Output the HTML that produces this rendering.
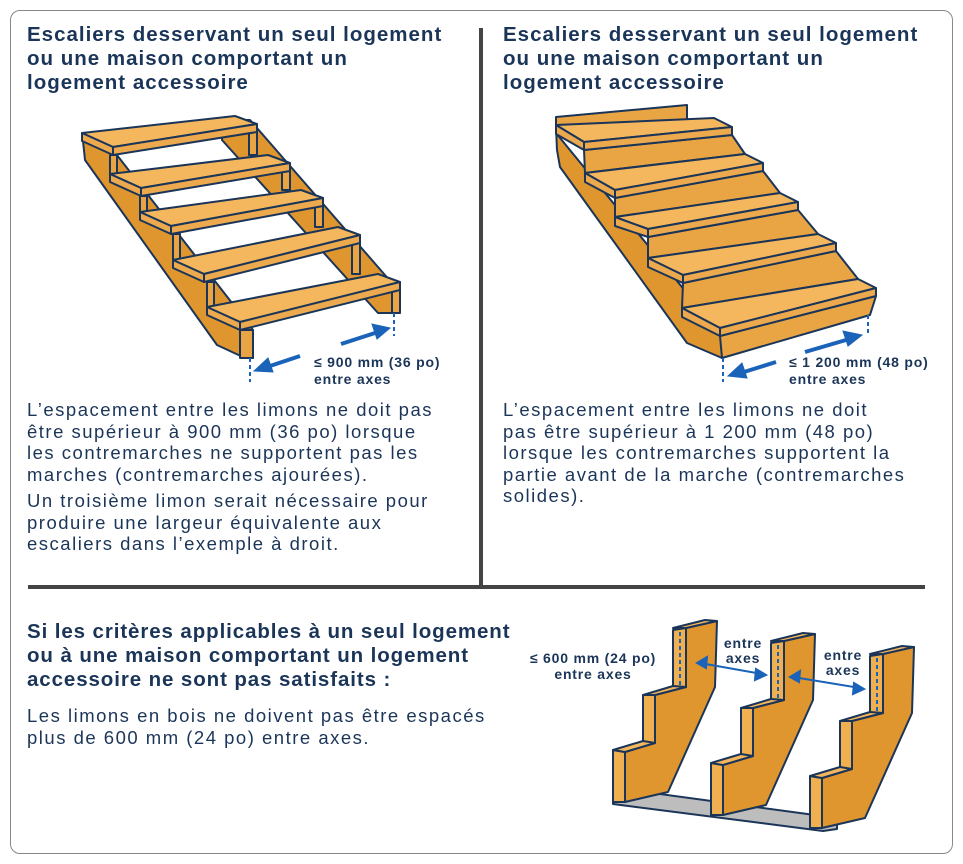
<!DOCTYPE html>
<html><head><meta charset="utf-8"><style>
body{margin:0;background:#fff;width:963px;height:864px;position:relative;font-family:"Liberation Sans",sans-serif;color:#1b3558;overflow:hidden}
.b{position:absolute;left:10px;top:10px;width:941px;height:842px;border:1.5px solid #888;border-radius:10px}
.h{position:absolute;font-weight:bold;font-size:20.5px;line-height:24px;letter-spacing:1px}
.t{position:absolute;font-size:18.5px;line-height:21.5px;letter-spacing:1.5px}
</style></head><body>
<div class="b"></div>
<div style="position:absolute;left:479px;top:28px;width:4px;height:558px;background:#444"></div>
<div style="position:absolute;left:28px;top:585px;width:897px;height:4px;background:#444"></div>
<div class="h" style="left:27px;top:23px">Escaliers desservant un seul logement<br>ou une maison comportant un<br>logement accessoire</div>
<div class="h" style="left:503px;top:23px">Escaliers desservant un seul logement<br>ou une maison comportant un<br>logement accessoire</div>
<div class="t" style="left:27px;top:399px">L’espacement entre les limons ne doit pas<br>être supérieur à 900 mm (36 po) lorsque<br>les contremarches ne supportent pas les<br>marches (contremarches ajourées).</div>
<div class="t" style="left:27px;top:490px">Un troisième limon serait nécessaire pour<br>produire une largeur équivalente aux<br>escaliers dans l’exemple à droit.</div>
<div class="t" style="left:503px;top:399px">L’espacement entre les limons ne doit<br>pas être supérieur à 1 200 mm (48 po)<br>lorsque les contremarches supportent la<br>partie avant de la marche (contremarches<br>solides).</div>
<div class="h" style="left:27px;top:620px;letter-spacing:0.9px">Si les critères applicables à un seul logement<br>ou à une maison comportant un logement<br>accessoire ne sont pas satisfaits :</div>
<div class="t" style="left:27px;top:705px">Les limons en bois ne doivent pas être espacés<br>plus de 600 mm (24 po) entre axes.</div>
<svg width="963" height="864" style="position:absolute;left:0;top:0" font-family="Liberation Sans,sans-serif" font-weight="bold" fill="#1b3558">
<g stroke="#1b3558" stroke-width="2" stroke-linejoin="round">
<!-- LEFT STAIR -->
<polygon points="222,120 250,120 398,290 398,313 378,313 222,140" fill="#e0962f"/>
<polygon points="83,141 85,160 217,345 245,358 253,358 253,330 113,150" fill="#e0962f"/>
<g fill="#e9a443">
<rect x="110" y="155" width="7" height="19"/><rect x="140" y="196" width="7" height="16"/><rect x="173" y="234" width="7" height="26"/><rect x="207" y="282" width="7" height="25"/><rect x="240" y="330" width="13" height="28"/>
<rect x="249" y="132" width="8" height="23"/><rect x="282" y="171" width="8" height="19"/><rect x="315" y="206" width="8" height="21"/><rect x="352" y="243" width="8" height="31"/><rect x="392" y="290" width="8" height="23"/>
</g>
<g>
<polygon points="82,133 235,116 257,124 113,147" fill="#f4b75e"/><polygon points="113,147 257,124 257,132 113,155" fill="#eda94d"/><polygon points="82,133 113,147 113,155 82,141" fill="#eda94d"/>
<polygon points="110,174 268,155 290,163 141,188" fill="#f4b75e"/><polygon points="141,188 290,163 290,171 141,196" fill="#eda94d"/><polygon points="110,174 141,188 141,196 110,182" fill="#eda94d"/>
<polygon points="140,212 301,190 323,198 171,226" fill="#f4b75e"/><polygon points="171,226 323,198 323,206 171,234" fill="#eda94d"/><polygon points="140,212 171,226 171,234 140,220" fill="#eda94d"/>
<polygon points="173,260 338,227 360,235 204,274" fill="#f4b75e"/><polygon points="204,274 360,235 360,243 204,282" fill="#eda94d"/><polygon points="173,260 204,274 204,282 173,268" fill="#eda94d"/>
<polygon points="207,307 378,274 400,282 240,322" fill="#f4b75e"/><polygon points="240,322 400,282 400,290 240,330" fill="#eda94d"/><polygon points="207,307 240,322 240,330 207,315" fill="#eda94d"/>
</g>
<!-- RIGHT STAIR -->
<polygon points="556,128 557,150 560,167 687,343 722,358 722,336 556,133" fill="#e0962f"/>
<polygon points="556,117 687,105 687,120 556,130" fill="#e9a443"/>
<g fill="#e9a443">
<polygon points="584,150 732,135 745,154 585,173"/>
<polygon points="615,198 763,171 780,193 615,217"/>
<polygon points="648,237 798,210 818,234 648,258"/>
<polygon points="683,283 836,251 858,279 682,308"/>
<polygon points="720,336 876,296 870,315 722,358"/>
</g>
<g>
<polygon points="556,125 714,118 732,127 584,142" fill="#f4b75e"/><polygon points="584,142 732,127 732,135 584,150" fill="#eda94d"/><polygon points="556,125 584,142 584,150 556,134" fill="#eda94d"/>
<polygon points="585,173 745,154 763,163 615,190" fill="#f4b75e"/><polygon points="615,190 763,163 763,171 615,198" fill="#eda94d"/><polygon points="585,173 615,190 615,198 585,182" fill="#eda94d"/>
<polygon points="615,217 780,193 798,202 648,229" fill="#f4b75e"/><polygon points="648,229 798,202 798,210 648,237" fill="#eda94d"/><polygon points="615,217 648,229 648,237 615,226" fill="#eda94d"/>
<polygon points="648,258 818,234 836,243 683,275" fill="#f4b75e"/><polygon points="683,275 836,243 836,251 683,283" fill="#eda94d"/><polygon points="648,258 683,275 683,283 648,267" fill="#eda94d"/>
<polygon points="682,308 858,279 876,288 720,328" fill="#f4b75e"/><polygon points="720,328 876,288 876,296 720,336" fill="#eda94d"/><polygon points="682,308 720,328 720,336 682,317" fill="#eda94d"/>
</g>
<!-- BOTTOM STRINGERS -->
<polygon points="613,797 613,804 823,831 837,829 837,818 630,790" fill="#bdbdbd"/>
<g id="s1">
<polygon points="625,802 625,752 655,743 655,695 686,687 686,628 717,621 715,687 668,792" fill="#e0962f"/>
<polygon points="613,750 613,802 625,802 625,752" fill="#f0b050"/>
<polygon points="643,695 643,745 655,743 655,695" fill="#f0b050"/>
<polygon points="673,630 673,690 686,687 686,628" fill="#f0b050"/>
<polygon points="613,750 625,752 655,743 643,741" fill="#f4b75e"/>
<polygon points="643,695 655,695 686,687 673,686" fill="#f4b75e"/>
<polygon points="673,628 686,628 717,621 705,620" fill="#f4b75e"/>
</g>
<use href="#s1" transform="translate(98,13)"/>
<use href="#s1" transform="translate(197,26)"/>
</g>
<g fill="#1a63b8" stroke="#1a63b8" stroke-width="4">
<line x1="300" y1="356" x2="270" y2="366"/><polygon points="254,371 268,358 273,372" stroke-width="1"/>
<line x1="341" y1="344" x2="375" y2="333"/><polygon points="390,328 372,324 377,339" stroke-width="1"/>
<line x1="776" y1="362" x2="744" y2="372"/><polygon points="728,376 742,363 747,378" stroke-width="1"/>
<line x1="805" y1="352" x2="846" y2="340"/><polygon points="862,335 843,331 848,346" stroke-width="1"/>
</g>
<g stroke="#1a63b8" stroke-width="2" fill="#1a63b8">
<line x1="700" y1="663" x2="762" y2="674"/><polygon points="697,663 707,657 706,668"/><polygon points="766,675 756,669 755,680"/>
<line x1="793" y1="677" x2="860" y2="688"/><polygon points="790,677 800,671 799,682"/><polygon points="864,689 854,683 853,694"/>
</g>
<g stroke="#1a63b8" stroke-width="2" stroke-dasharray="4,3">
<line x1="250" y1="358" x2="250" y2="382"/><line x1="394" y1="313" x2="394" y2="336"/>
<line x1="723" y1="358" x2="723" y2="382"/><line x1="868" y1="315" x2="868" y2="334"/>
<line x1="680" y1="632" x2="680" y2="686"/><line x1="778" y1="645" x2="778" y2="699"/><line x1="877" y1="658" x2="877" y2="712"/>
</g>
<g font-size="14" letter-spacing="0.8">
<text x="314" y="367">≤ 900 mm (36 po)</text><text x="314" y="384">entre axes</text>
<text x="789" y="367">≤ 1 200 mm (48 po)</text><text x="789" y="384">entre axes</text>
<text x="593" y="663" text-anchor="middle">≤ 600 mm (24 po)</text><text x="593" y="679" text-anchor="middle">entre axes</text>
<text x="743" y="648" text-anchor="middle">entre</text><text x="743" y="663" text-anchor="middle">axes</text>
<text x="843" y="660" text-anchor="middle">entre</text><text x="843" y="675" text-anchor="middle">axes</text>
</g>
</svg>
</body></html>
